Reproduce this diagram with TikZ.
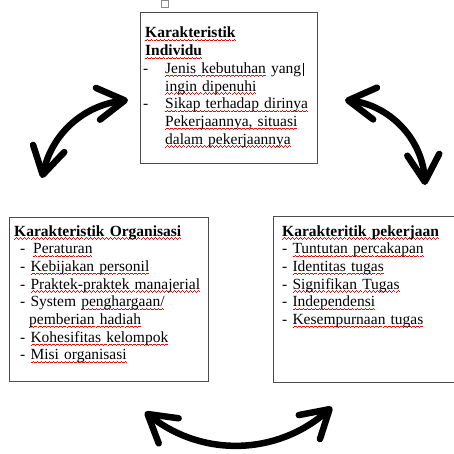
\documentclass[tikz,border=0pt]{standalone}
\usepackage{fontspec}
\setmainfont{Liberation Serif}
\usetikzlibrary{arrows.meta}
\newsavebox\salahbox
\newcommand\salah[1]{\sbox\salahbox{#1}\rlap{\lower3.2pt\hbox to \wd\salahbox{\color{red}\xleaders\hbox{\rule{1pt}{0.7pt}\rule[0.6pt]{1pt}{0.7pt}\rule[1.2pt]{1pt}{0.7pt}\rule[0.6pt]{1pt}{0.7pt}}\hfill}}\usebox\salahbox}

\begin{document}
\begin{tikzpicture}[x=1pt,y=-1pt]
\tikzstyle{kotak} = [draw=black!70, line width=0.9pt, inner sep=0pt, anchor=north west]
\tikzstyle{isi} = [anchor=base west, inner sep=0pt, text width=300pt, align=left, font=\fontsize{15.5}{17.7}\selectfont]
\tikzstyle{panah} = [line width=6.5pt, {Straight Barb[length=27pt,width=32pt,round]}-{Straight Barb[length=27pt,width=32pt,round]}]
\useasboundingbox (0,0) rectangle (453,454);
\draw[black!45, line width=0.6pt] (161,0) rectangle (168,7);
% kotak
\node[kotak, minimum width=177pt, minimum height=151pt] (b1) at (140,12) {};
\node[kotak, minimum width=199pt, minimum height=164pt] (b2) at (9,217) {};
\node[kotak, minimum width=200pt, minimum height=166pt] (b3) at (273,216) {};
% isi
\node[isi] (t1) at (143,38) {\hspace*{2pt}\textbf{\salah{Karakteristik}}\\
\hspace*{2pt}\textbf{\salah{Individu}}\\
\makebox[22pt][l]{-}\salah{Jenis kebutuhan} yang\hspace{2pt}\rule[-3pt]{0.8pt}{13pt}\\
\hspace*{22pt}\salah{ingin dipenuhi}\\
\makebox[22pt][l]{-}\salah{Sikap terhadap dirinya}\\
\hspace*{22pt}\salah{Pekerjaannya, situasi}\\
\hspace*{22pt}\salah{dalam pekerjaannya}};
\node[isi] (t2) at (14,236) {\textbf{\salah{Karakteristik Organisasi}}\\
\hspace*{6pt}-\hspace*{7.8pt}\salah{Peraturan}\\
\hspace*{6pt}- \salah{Kebijakan personil}\\
\hspace*{6pt}- \salah{Praktek-praktek manajerial}\\
\hspace*{6pt}- System \salah{penghargaan/}\\
\hspace*{15pt}\salah{pemberian hadiah}\\
\hspace*{6pt}- \salah{Kohesifitas kelompok}\\
\hspace*{6pt}- \salah{Misi organisasi}};
\node[isi] (t3) at (282,236) {\textbf{\salah{Karakteritik pekerjaan}}\\
- \salah{Tuntutan percakapan}\\
- \salah{Identitas tugas}\\
- \salah{Signifikan Tugas}\\
- \salah{Independensi}\\
- \salah{Kesempurnaan tugas}};
% panah
\coordinate (a1) at (42,178);
\coordinate (a2) at (128,100);
\coordinate (a3) at (345,100);
\coordinate (a4) at (425,185);
\coordinate (a5) at (145,412);
\coordinate (a6) at (332,407);
\draw[panah] (a1) to[bend left=35] (a2);
\draw[panah] (a3) to[bend left=40] (a4);
\draw[panah] (a5) to[bend right=40] (a6);
\end{tikzpicture}
\end{document}
